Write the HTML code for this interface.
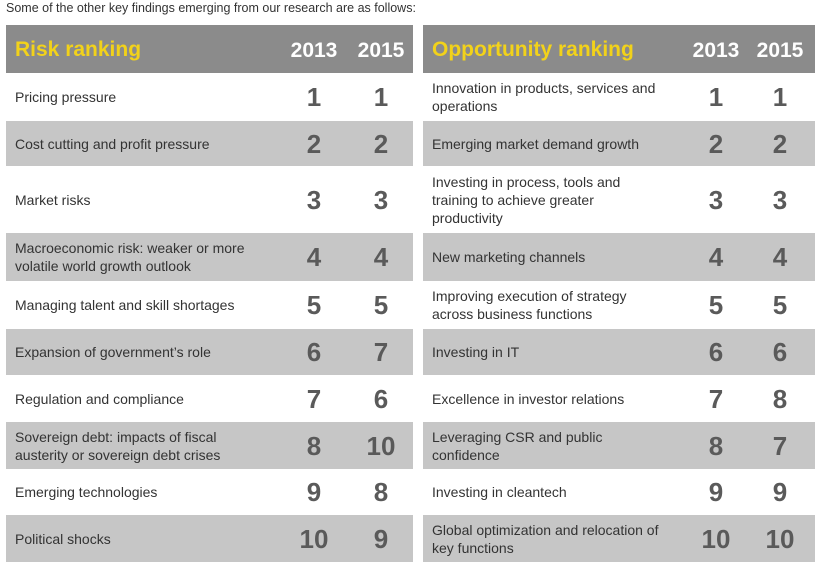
<!DOCTYPE html>
<html><head><meta charset="utf-8"><style>
body{margin:0;width:820px;height:567px;background:#fff;font-family:"Liberation Sans",sans-serif;position:relative;overflow:hidden}
.cap{position:absolute;left:6px;top:1px;font-size:12.5px;color:#333}
.hd{position:absolute;background:#8b8b8b;top:25px;height:48px}
.hd .t{position:absolute;left:9px;top:13px;font-size:21px;font-weight:bold;color:#f2d21a}
.hd .y{position:absolute;top:14px;font-size:21px;font-weight:bold;color:#fff;transform:translateX(-50%)}
.row{position:absolute;display:flex;align-items:center}
.g{background:#c6c6c6}
.row .l{position:absolute;left:9px;font-size:14px;line-height:18px;color:#333}
.row .n{position:absolute;font-size:26px;color:#5a5a5a;transform:translateX(-50%);font-weight:bold;top:50%;margin-top:-15px}
</style></head><body>
<div class="cap">Some of the other key findings emerging from our research are as follows:</div>
<div id="c"></div>
<script>
const rows=[[73,120],[121,166],[167,232],[233,281],[282,328],[329,375],[376,421],[422,469],[470,514],[515,562]];
const L=[["Pricing pressure",1,1],["Cost cutting and profit pressure",2,2],["Market risks",3,3],["Macroeconomic risk: weaker or more volatile world growth outlook",4,4],["Managing talent and skill shortages",5,5],["Expansion of government’s role",6,7],["Regulation and compliance",7,6],["Sovereign debt: impacts of fiscal austerity or sovereign debt crises",8,10],["Emerging technologies",9,8],["Political shocks",10,9]];
const R=[["Innovation in products, services and operations",1,1],["Emerging market demand growth",2,2],["Investing in process, tools and training to achieve greater productivity",3,3],["New marketing channels",4,4],["Improving execution of strategy across business functions",5,5],["Investing in IT",6,6],["Excellence in investor relations",7,8],["Leveraging CSR and public confidence",8,7],["Investing in cleantech",9,9],["Global optimization and relocation of key functions",10,10]];
let h="";
function tbl(x,w,title,data,c1,c2,lw){
h+=`<div class="hd" style="left:${x}px;width:${w}px"><div class="t">${title}</div><div class="y" style="left:${c1-x}px">2013</div><div class="y" style="left:${c2-x}px">2015</div></div>`;
data.forEach((d,i)=>{const [a,b]=rows[i];
h+=`<div class="row ${i%2?'g':''}" style="left:${x}px;width:${w}px;top:${a}px;height:${b-a}px"><div class="l" style="width:${lw}px">${d[0]}</div><div class="n" style="left:${c1-x}px">${d[1]}</div><div class="n" style="left:${c2-x}px">${d[2]}</div></div>`;});
}
tbl(6,407,"Risk ranking",L,314,381,250);
tbl(423,392,"Opportunity ranking",R,716,780,230);
document.getElementById("c").innerHTML=h;
</script>
</body></html>
